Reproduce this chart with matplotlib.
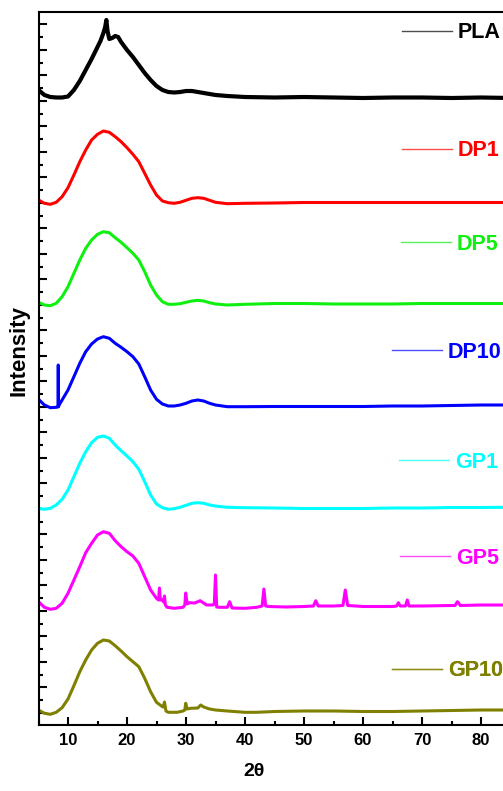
import numpy as np
import matplotlib.pyplot as plt
from matplotlib.ticker import MultipleLocator
from matplotlib.lines import Line2D

plt.rcParams['font.family'] = ['Liberation Sans', 'DejaVu Sans']
plt.rcParams['font.weight'] = 'bold'

# 2-theta grid used by the smooth patterns
tt = [5, 6, 7, 8, 9, 10, 11, 12, 13, 14, 15, 16, 17, 18, 19, 20, 21, 22, 23, 24, 25,
      26, 27, 28, 29, 30, 31, 32, 33, 34, 35, 37, 40, 45, 50, 55, 60, 65, 70, 75, 80, 85]

# stacked intensities (a.u.)
pla_x = [5, 6, 7, 8, 9, 10, 11, 12, 13, 14, 15, 15.5, 16, 16.3, 16.5, 16.7, 17, 17.5, 18, 18.5,
         19, 20, 21, 22, 23, 24, 25, 26, 27, 28, 29, 30, 31, 32, 33, 35, 37, 40, 45, 50, 55,
         60, 65, 70, 75, 80, 85]
pla_y = [635, 630, 628, 627.5, 627.5, 628.5, 635, 644, 655, 666, 678, 684, 692, 698, 705, 694,
         686, 687, 689, 688, 683, 675, 668, 660, 652, 645, 639, 635, 633, 632.5, 633, 634, 634,
         633, 632, 630, 629, 628, 627.5, 628, 627.5, 627, 627.5, 627.5, 627, 627.5, 627]

dp1_y = [525, 521.7, 520.7, 522.7, 528.3, 537.3, 550, 563.3, 575, 585, 590.7, 594, 592.7, 588.3,
         583.3, 577.3, 570.7, 563.3, 551.7, 540, 530, 524, 522.3, 521.7, 522.7, 524.7, 526.7,
         527.3, 526.7, 524.7, 522.7, 521.3, 521.7, 522, 522.5, 522.5, 522.5, 522.5, 522.5,
         522.5, 522.5, 522.5]

dp5_y = [422.7, 420, 419.3, 421.7, 428.3, 438.3, 451.7, 465, 476.7, 485, 490.7, 493.3, 492.3,
         487.3, 482.7, 477.3, 471.7, 465, 453.3, 440, 430, 423.3, 420.7, 420.7, 421.3, 422.7,
         424, 424.7, 424, 422.3, 421, 420, 420.7, 421.5, 421.5, 421, 421, 421, 421.5, 421.5,
         421.5, 421.5]

dp10_x = [5, 6, 7, 8, 8.3, 8.35, 8.4, 8.5, 9, 10, 11, 12, 13, 14, 15, 16, 17, 18, 19, 20, 21,
          22, 23, 24, 25, 26, 27, 28, 29, 30, 31, 32, 33, 34, 35, 37, 40, 45, 50, 55, 60, 65,
          70, 75, 80, 85]
dp10_y = [325.7, 320, 317.3, 317.7, 318, 360, 318.5, 320, 325, 335, 348.3, 361.7, 373.3, 381,
          386, 388.3, 386.7, 381.7, 377.7, 373.3, 368.3, 361, 348.3, 335, 325.7, 321, 319, 319,
          320, 321.7, 324, 325, 324, 321.7, 320, 318.3, 318.3, 318.5, 318.5, 318.5, 318.5, 319,
          319, 319.5, 320, 320]

gp1_y = [216.7, 215.7, 216.7, 220, 225.7, 235, 248.3, 261.7, 273.3, 282.3, 287.7, 289, 286.7,
         280, 274.3, 269, 263.3, 255.7, 243.3, 230, 221, 217.3, 215.7, 216.3, 217.7, 219.7,
         221.7, 222.3, 221.7, 220, 219, 217.7, 217.3, 217, 216.5, 216.5, 216.5, 217, 217, 217.5,
         217.5, 217.7]

gp5_x = [5, 6, 7, 8, 9, 10, 11, 12, 13, 14, 15, 16, 17, 18, 19, 20, 21, 22, 23, 24, 25, 25.35,
         25.5, 25.65, 26.0, 26.2, 26.35, 26.5, 26.8, 28, 29.5, 29.8, 29.95, 30.2, 30.6, 31.5,
         32.4, 33.5, 34.6, 34.8, 35.0, 35.2, 35.6, 37.0, 37.4, 37.8, 40, 42, 42.9, 43.2, 43.5,
         44, 47, 50, 51.6, 52.0, 52.4, 55, 56.6, 57.0, 57.4, 60, 65, 65.7, 66.0, 66.3, 67.2,
         67.5, 67.8, 70, 75, 75.6, 76.0, 76.5, 80, 85]
gp5_y = [123.3, 117.7, 115.7, 116.7, 121.7, 131.7, 145, 158.3, 172.3, 181.7, 190, 193.3, 191.7,
         184.3, 178.3, 173.3, 169, 161.7, 148.3, 135, 126.7, 125, 137, 125, 125, 123, 129, 120,
         117.7, 116.7, 117.7, 120, 132, 121, 122.3, 122, 124.3, 120, 120, 121, 150, 118, 117.7,
         117.7, 123.3, 117, 116.7, 117.7, 119, 136, 119, 118.5, 118, 118.5, 119, 124.3, 119,
         119, 119.5, 135, 119.5, 118.5, 118.5, 119, 122.3, 119, 119, 125, 119, 119, 119.5,
         119.5, 123.3, 119.5, 120, 120]

gp10_x = [5, 6, 7, 8, 9, 10, 11, 12, 13, 14, 15, 16, 17, 18, 19, 20, 21, 22, 23, 24, 25, 26,
          26.15, 26.35, 26.6, 27, 28.5, 29.5, 29.8, 29.95, 30.2, 30.8, 32, 32.5, 33, 34, 35, 37,
          40, 42, 45, 50, 55, 60, 65, 70, 75, 80, 85]
gp10_y = [15, 11.7, 10.7, 12.7, 17.3, 26, 39.3, 53.3, 65, 75, 81.7, 85, 84, 79.3, 74, 68.3,
          63.3, 58.3, 46.7, 33.3, 22.7, 18.3, 18, 23, 14, 12.7, 12.7, 14, 15, 21.7, 16, 16.7,
          17, 20, 18, 16, 15, 14, 12.7, 12.7, 13.5, 14, 14, 13.5, 13.5, 14, 14.5, 15, 15]

names = ["PLA", "DP1", "DP5", "DP10", "GP1", "GP5", "GP10"]
xs = [pla_x, tt, tt, dp10_x, tt, gp5_x, gp10_x]
ys = [pla_y, dp1_y, dp5_y, dp10_y, gp1_y, gp5_y, gp10_y]
colors = ["black", "#FF0000", "#10F010", "#0000FF", "#00FFFF", "#FF00FF", "#808000"]
widths = [3.0, 2.2, 2.2, 2.2, 2.2, 2.2, 2.2]

# label anchors (figure pixels): left end of the sample line, vertical centre
label_pos = [(402, 33), (402, 151), (401, 244), (392, 352), (399, 462), (400, 558), (392, 671)]

W, H = 503, 791
fig = plt.figure(figsize=(W / 100, H / 100), dpi=100)
ax = fig.add_axes([38.5 / W, 66 / H, 472 / W, 713 / H])

for x, y, c, lw in zip(xs, ys, colors, widths):
    ax.plot(x, y, color=c, lw=lw, solid_joinstyle='round')

for name, c, (px, py) in zip(names, colors, label_pos):
    h = Line2D([], [], color=c, lw=1.0, alpha=0.7)
    leg = ax.legend(handles=[h], labels=[name], loc='center left',
                    bbox_to_anchor=(px / W, 1 - py / H), bbox_transform=fig.transFigure,
                    frameon=False, fontsize=15.5, handlelength=2.3, handletextpad=0.3,
                    borderpad=0, borderaxespad=0, labelcolor=c)
    ax.add_artist(leg)

ax.set_xlim(5, 85)
ax.set_ylim(0, 713)
ax.xaxis.set_major_locator(MultipleLocator(10))
ax.xaxis.set_minor_locator(MultipleLocator(5))
ax.yaxis.set_major_locator(MultipleLocator(25.5, offset=12.2))
ax.yaxis.set_minor_locator(MultipleLocator(12.75, offset=12.2))
ax.tick_params(which='both', direction='in', width=1.5, top=False, right=False)
ax.tick_params(which='major', length=6)
ax.tick_params(which='minor', length=3)
ax.tick_params(axis='x', labelsize=12, pad=6)
ax.tick_params(axis='y', labelleft=False)
for lab in ax.get_xticklabels():
    lab.set_fontweight('bold')
for s in ax.spines.values():
    s.set_linewidth(1.5)
ax.spines['right'].set_visible(False)

fig.text(19 / W, 1 - 350 / H, "Intensity", rotation=90, ha='center', va='center',
         fontsize=16, fontweight='bold')
fig.text(254 / W, 1 - 771 / H, "2θ", ha='center', va='center', fontsize=14, fontweight='bold')

fig.savefig("out.png", dpi=100)
